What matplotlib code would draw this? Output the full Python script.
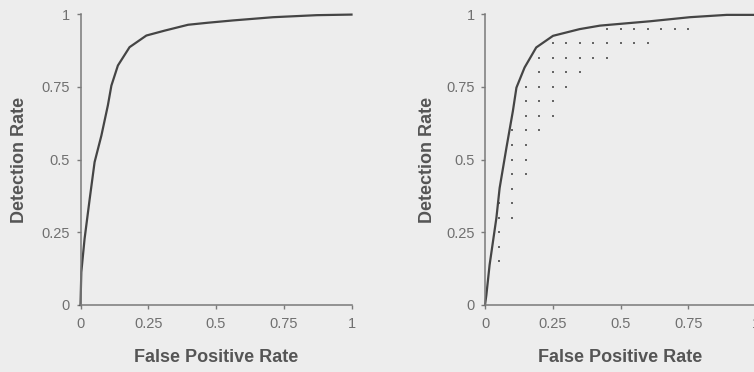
import matplotlib
matplotlib.use("Agg")
import matplotlib.pyplot as plt

# ---- data ----
left_fpr = [0, 0.003, 0.015, 0.034, 0.052, 0.077, 0.101, 0.114, 0.138, 0.181,
            0.243, 0.311, 0.397, 0.47, 0.564, 0.711, 0.872, 1.0]
left_tpr = [0, 0.113, 0.227, 0.365, 0.491, 0.582, 0.686, 0.754, 0.823, 0.886,
            0.926, 0.943, 0.963, 0.970, 0.978, 0.989, 0.996, 0.998]

right_fpr = [0, 0.005, 0.017, 0.042, 0.054, 0.079, 0.103, 0.116, 0.146, 0.189,
             0.251, 0.349, 0.424, 0.46, 0.609, 0.756, 0.892, 1.0]
right_tpr = [0, 0.034, 0.138, 0.299, 0.402, 0.540, 0.667, 0.747, 0.816, 0.885,
             0.925, 0.948, 0.960, 0.963, 0.975, 0.989, 0.997, 0.997]

# operating points (dots) in the right panel, listed per column
dot_columns = {
    0.05: [0.15, 0.20, 0.25, 0.30, 0.35],
    0.10: [0.30, 0.35, 0.40, 0.45, 0.50, 0.55, 0.60],
    0.15: [0.45, 0.50, 0.55, 0.60, 0.65, 0.70, 0.75],
    0.20: [0.60, 0.65, 0.70, 0.75, 0.80, 0.85],
    0.25: [0.65, 0.70, 0.75, 0.80, 0.85, 0.90],
    0.30: [0.75, 0.80, 0.85, 0.90],
    0.35: [0.80, 0.85, 0.90],
    0.40: [0.85, 0.90],
    0.45: [0.85, 0.90, 0.95],
    0.50: [0.90, 0.95],
    0.55: [0.90, 0.95],
    0.60: [0.90, 0.95],
    0.65: [0.95],
    0.70: [0.95],
    0.75: [0.95],
}

tick_vals = [0, 0.25, 0.5, 0.75, 1]
tick_labels = ["0", "0.25", "0.5", "0.75", "1"]
x_label = "False Positive Rate"
y_label = "Detection Rate"

# ---- style ----
plt.rcParams['font.family'] = ['Liberation Sans', 'DejaVu Sans']
BG = '#ededed'
AXIS_C = '#7a7a7a'
TICK_C = '#707070'
LABEL_C = '#555555'
CURVE_C = '#454545'

W, H = 754, 372
fig = plt.figure(figsize=(W / 100, H / 100), dpi=100, facecolor=BG)

bottom_px, top_px = 305, 14
ax_h = (bottom_px - top_px) / H
ax_b = (H - bottom_px) / H
ax_w = 271 / W

ax1 = fig.add_axes([80.5 / W, ax_b, ax_w, ax_h])
ax2 = fig.add_axes([485 / W, ax_b, ax_w, ax_h])

dot_x = []
dot_y = []
for cx, ys in dot_columns.items():
    for cy in ys:
        dot_x.append(cx)
        dot_y.append(cy)

for ax, fx, ty, ylab_x in [(ax1, left_fpr, left_tpr, -0.225),
                            (ax2, right_fpr, right_tpr, -0.213)]:
    ax.set_facecolor(BG)
    if ax is ax2:
        ax.plot(dot_x, dot_y, linestyle='none', marker='s', markersize=2.0,
                color='#666666', markeredgewidth=0, clip_on=False)
    ax.plot(fx, ty, color=CURVE_C, linewidth=1.6, clip_on=False,
            solid_joinstyle='round')
    ax.set_xlim(0, 1)
    ax.set_ylim(0, 1)
    for s in ['top', 'right']:
        ax.spines[s].set_visible(False)
    for s in ['left', 'bottom']:
        ax.spines[s].set_color(AXIS_C)
        ax.spines[s].set_linewidth(1.1)
    ax.set_xticks(tick_vals)
    ax.set_xticklabels(tick_labels)
    ax.set_yticks(tick_vals)
    ax.set_yticklabels(tick_labels)
    ax.tick_params(axis='both', direction='out', length=3, width=1,
                   color=AXIS_C, labelcolor=TICK_C, labelsize=10.5)
    ax.tick_params(axis='x', pad=6)
    ax.tick_params(axis='y', pad=4.5)
    ax.set_xlabel(x_label, fontsize=13, fontweight='bold', color=LABEL_C,
                  va='center')
    ax.xaxis.set_label_coords(0.5, -0.18)
    ax.set_ylabel(y_label, fontsize=13, fontweight='bold', color=LABEL_C,
                  va='center')
    ax.yaxis.set_label_coords(ylab_x, 0.5)

fig.savefig("out.png", dpi=100, facecolor=BG)
